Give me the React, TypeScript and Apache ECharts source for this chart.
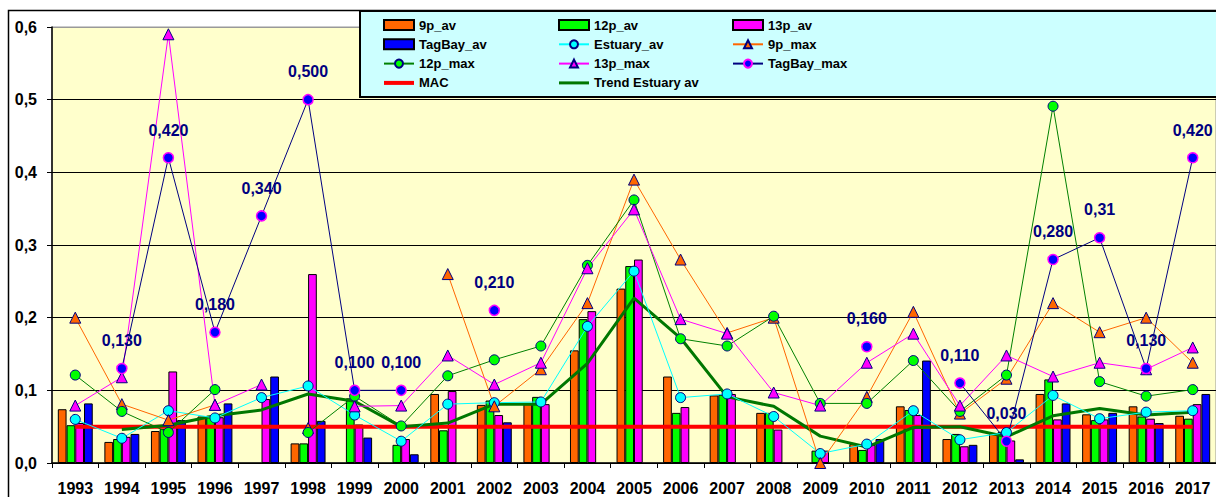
import React, { useEffect, useRef } from "react";
import * as echarts from "echarts";

const years = [
  "1993", "1994", "1995", "1996", "1997", "1998", "1999", "2000", "2001", "2002",
  "2003", "2004", "2005", "2006", "2007", "2008", "2009", "2010", "2011", "2012",
  "2013", "2014", "2015", "2016", "2017",
];

const p9Av = [0.074, 0.029, 0.044, 0.064, null, 0.027, null, null, 0.095, 0.08, 0.081, 0.155, 0.24, 0.119, 0.093, 0.069, null, 0.026, 0.078, 0.033, 0.041, 0.095, 0.067, 0.078, 0.065];
const p12Av = [0.052, 0.033, 0.047, 0.065, null, 0.027, 0.089, 0.025, 0.045, 0.086, 0.091, 0.198, 0.271, 0.069, 0.094, 0.069, 0.017, 0.018, 0.073, 0.04, 0.043, 0.115, 0.059, 0.064, 0.061];
const p13Av = [0.055, 0.036, 0.126, 0.063, 0.088, 0.26, 0.053, 0.033, 0.099, 0.066, 0.081, 0.209, 0.28, 0.077, 0.095, 0.046, 0.017, 0.025, 0.066, 0.023, 0.031, 0.06, 0.06, 0.061, 0.081];
const tagBayAv = [0.082, 0.04, 0.059, 0.082, 0.119, 0.058, 0.035, 0.012, null, 0.056, null, null, null, null, null, null, null, 0.033, 0.141, 0.025, 0.005, 0.082, 0.069, 0.055, 0.095];
const estuaryAv = [0.06, 0.034, 0.072, 0.062, 0.09, 0.106, 0.066, 0.03, 0.081, 0.083, 0.084, 0.188, 0.264, 0.09, 0.095, 0.064, 0.013, 0.026, 0.072, 0.032, 0.042, 0.093, 0.061, 0.07, 0.072];
const p9Max = [0.2, 0.081, 0.059, 0.08, null, 0.048, null, null, 0.26, 0.078, 0.129, 0.22, 0.39, 0.28, 0.179, 0.2, 0.0, 0.091, 0.208, 0.068, 0.116, 0.22, 0.18, 0.2, 0.138];
const p12Max = [0.121, 0.071, 0.042, 0.101, null, 0.042, 0.092, 0.051, 0.12, 0.142, 0.161, 0.272, 0.362, 0.171, 0.161, 0.202, 0.082, 0.082, 0.141, 0.071, 0.121, 0.491, 0.112, 0.092, 0.101];
const p13Max = [0.079, 0.118, 0.59, 0.08, 0.108, null, 0.078, 0.079, 0.148, 0.108, 0.138, 0.268, 0.349, 0.198, 0.178, 0.097, 0.079, 0.138, 0.178, 0.079, 0.148, 0.119, 0.138, 0.129, 0.159];
const tagBayMax = [null, 0.13, 0.42, 0.18, 0.34, 0.5, 0.1, 0.1, null, 0.21, null, null, null, null, null, null, null, 0.16, null, 0.11, 0.03, 0.28, 0.31, 0.13, 0.42];
const tagBayLabels = ["", "0,130", "0,420", "0,180", "0,340", "0,500", "0,100", "0,100", "", "0,210", "", "", "", "", "", "", "", "0,160", "", "0,110", "0,030", "0,280", "0,31", "0,130", "0,420"];
const mac = [0.05, 0.05, 0.05, 0.05, 0.05, 0.05, 0.05, 0.05, 0.05, 0.05, 0.05, 0.05, 0.05, 0.05, 0.05, 0.05, 0.05, 0.05, 0.05, 0.05, 0.05, 0.05, 0.05, 0.05, 0.05];
const trendEstuary = [null, 0.046, 0.052, 0.065, 0.073, 0.095, 0.085, 0.05, 0.055, 0.081, 0.081, 0.137, 0.227, 0.172, 0.091, 0.078, 0.037, 0.022, 0.049, 0.05, 0.036, 0.065, 0.075, 0.066, 0.07];

const legendCol1 = ["9p_av", "TagBay_av", "12p_max", "MAC"];
const legendCol2 = ["12p_av", "Estuary_av", "13p_max", "Trend Estuary av"];
const legendCol3 = ["13p_av", "9p_max", "TagBay_max"];

const NAVY = "#000080";
const FONT = '"Liberation Sans", Arial, sans-serif';
const NARROW = '"Liberation Sans Narrow", "Arial Narrow", "Liberation Sans", Arial, sans-serif';

function barSeries(name: string, data: (number | null)[], color: string) {
  return {
    name,
    type: "bar",
    data,
    barGap: "0%",
    barCategoryGap: "25%",
    itemStyle: { color, borderColor: "#000", borderWidth: 1 },
    z: 2,
  };
}

function lineSeries(
  name: string,
  data: (number | null)[],
  lineColor: string,
  symbol: string,
  fill: string,
  border: string,
  borderWidth = 1
) {
  return {
    name,
    type: "line",
    data,
    symbol,
    symbolSize: symbol === "triangle" ? 11 : 10,
    showAllSymbol: true,
    connectNulls: false,
    itemStyle: { color: fill, borderColor: border, borderWidth },
    lineStyle: { color: lineColor, width: 1 },
    z: 4,
  };
}

function legendItems(names: string[]) {
  return names.map((n) => {
    if (n.endsWith("_av") && n !== "Estuary_av") return { name: n, icon: "rect" };
    if (n === "MAC") return { name: n, icon: "path://M0,0H30V4H0Z" };
    if (n === "Trend Estuary av") return { name: n, icon: "path://M0,0H30V3H0Z" };
    return { name: n };
  });
}

const legendCommon = {
  orient: "vertical",
  top: 18,
  itemWidth: 30,
  itemHeight: 10,
  itemGap: 5.3,
  padding: 0,
  selectedMode: false,
  z: 10,
  textStyle: {
    fontFamily: NARROW,
    fontWeight: "bold",
    fontSize: 13,
    lineHeight: 14,
    color: "#000",
  },
};

export default function App() {
  const ref = useRef<HTMLDivElement>(null);

  useEffect(() => {
    document.body.style.margin = "0";
    document.body.style.overflow = "hidden";
    const chart = echarts.init(ref.current!, null, { renderer: "svg" });

    const option = {
      animation: false,
      backgroundColor: "#ffffff",
      grid: {
        left: 52,
        top: 27,
        bottom: 34,
        right: -7.5,
        show: true,
        backgroundColor: "#ffffcc",
        borderColor: "#999999",
        borderWidth: 1,
      },
      graphic: [
        {
          type: "rect",
          silent: true,
          z: 0,
          shape: { x: 8.5, y: 10.5, width: 1400, height: 600 },
          style: { fill: "none", stroke: "#000", lineWidth: 1.5 },
        },
        {
          type: "rect",
          silent: true,
          z: 8,
          shape: { x: 360, y: 11, width: 1000, height: 86 },
          style: { fill: "#ccffff", stroke: "#000", lineWidth: 2 },
        },
      ],
      legend: [
        { ...legendCommon, left: 383, data: legendItems(legendCol1) },
        { ...legendCommon, left: 558, data: legendItems(legendCol2) },
        { ...legendCommon, left: 732, data: legendItems(legendCol3) },
      ],
      xAxis: {
        type: "category",
        data: years,
        boundaryGap: true,
        axisLine: { lineStyle: { color: "#000", width: 1.5 } },
        axisTick: { show: true, length: 5, lineStyle: { color: "#000", width: 1 } },
        axisLabel: {
          interval: 0,
          color: "#000",
          fontFamily: FONT,
          fontWeight: "bold",
          fontSize: 16,
          margin: 17,
        },
        splitLine: { show: false },
      },
      yAxis: {
        type: "value",
        min: 0,
        max: 0.6,
        interval: 0.1,
        axisLine: { show: true, lineStyle: { color: "#000", width: 1.5 } },
        axisTick: { show: true, length: 5, lineStyle: { color: "#000", width: 1 } },
        axisLabel: {
          color: "#000",
          fontFamily: FONT,
          fontWeight: "bold",
          fontSize: 16,
          margin: 15,
          formatter: (v: number) => v.toFixed(1).replace(".", ","),
        },
        splitLine: {
          show: true,
          lineStyle: {
            color: ["#000", "#000", "#000", "#000", "#000", "#000", "#999999"],
            width: 1,
          },
        },
      },
      series: [
        barSeries("9p_av", p9Av, "#ff6600"),
        barSeries("12p_av", p12Av, "#00ff00"),
        barSeries("13p_av", p13Av, "#ff00ff"),
        barSeries("TagBay_av", tagBayAv, "#0000ff"),
        {
          name: "MAC",
          type: "line",
          data: mac,
          symbol: "none",
          itemStyle: { color: "#ff0000" },
          lineStyle: { color: "#ff0000", width: 4 },
          z: 3,
        },
        {
          name: "Trend Estuary av",
          type: "line",
          data: trendEstuary,
          symbol: "none",
          itemStyle: { color: "#007700" },
          lineStyle: { color: "#007700", width: 3 },
          z: 3,
        },
        lineSeries("Estuary_av", estuaryAv, "#00ffff", "circle", "#00ffff", NAVY),
        lineSeries("9p_max", p9Max, "#ff6600", "triangle", "#ff6600", NAVY),
        lineSeries("12p_max", p12Max, "#008000", "circle", "#00ff00", NAVY),
        lineSeries("13p_max", p13Max, "#ff00ff", "triangle", "#ff00ff", NAVY),
        {
          ...lineSeries("TagBay_max", tagBayMax, NAVY, "circle", "#0000ff", "#ff00ff", 1.5),
          label: {
            show: true,
            position: "top",
            distance: 14,
            color: NAVY,
            fontFamily: FONT,
            fontWeight: "bold",
            fontSize: 16,
            formatter: (p: any) => tagBayLabels[p.dataIndex],
          },
        },
      ],
    };

    chart.setOption(option as any);
    return () => chart.dispose();
  }, []);

  return <div ref={ref} style={{ width: 1216, height: 497 }} />;
}
